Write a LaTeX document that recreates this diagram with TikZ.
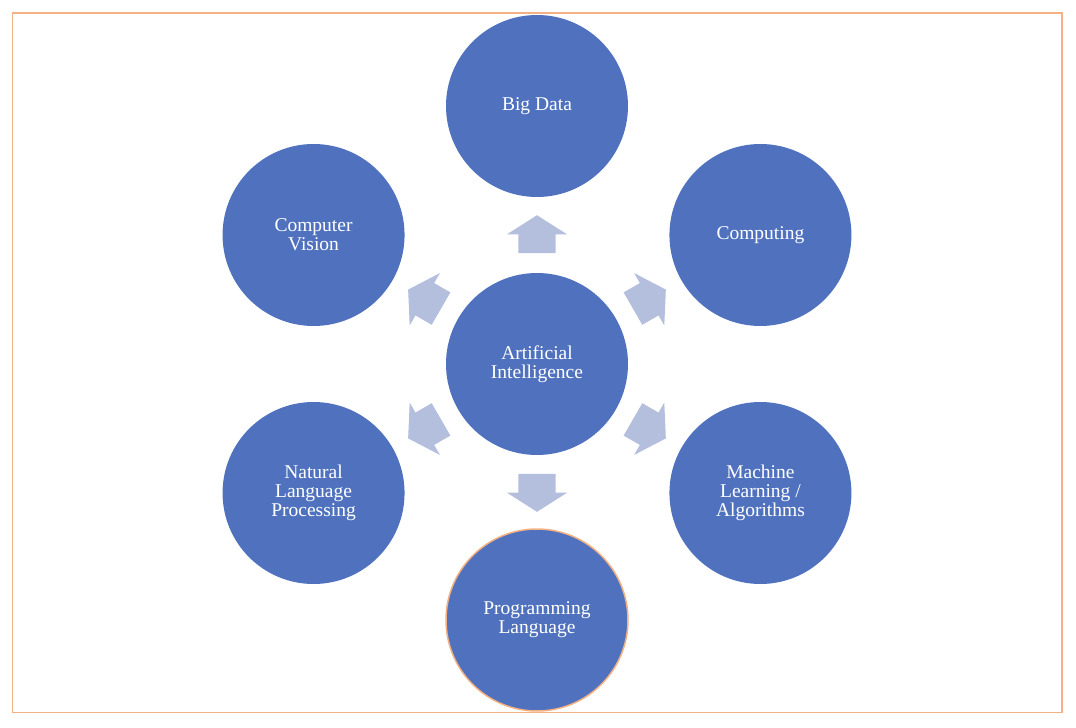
\documentclass[tikz,border=0pt]{standalone}
\usepackage{fontspec}
\setmainfont{Liberation Serif}
\usepackage{tikz}
\usepackage{xcolor}
\usetikzlibrary{shapes.arrows,calc}
\definecolor{aiblue}{HTML}{5072BE}
\definecolor{arrowblue}{HTML}{B4BFDE}
\definecolor{frameorange}{HTML}{F4B183}
\tikzstyle{topic} = [circle, fill=aiblue, minimum size=182pt, inner sep=0pt, text=white, align=center, font=\fontsize{19.5}{19}\selectfont]
\tikzstyle{spoke} = [single arrow, fill=arrowblue, minimum height=38pt, inner xsep=0pt, inner ysep=18.5pt, single arrow head extend=11.5pt, single arrow tip angle=115]

\begin{document}
\begin{tikzpicture}[x=1pt,y=1pt]
  \useasboundingbox (-537,-364) rectangle (539,364);
  \draw[frameorange, line width=1.2pt] (-524.5,-348.5) rectangle (525,351);

  \node[topic] (AI) at (0,0) {Artificial\\Intelligence};
  \node[topic] (BD) at (90:258) {Big Data};
  \node[topic] (Comp) at (30:258) {Computing};
  \node[topic] (ML) at (-30:258) {Machine\\Learning /\\Algorithms};
  \node[topic, draw=frameorange, line width=1.5pt] (PL) at (-90:256) {Programming\\Language};
  \node[topic] (NLP) at (-150:258) {Natural\\Language\\Processing};
  \node[topic] (CV) at (150:258) {Computer\\Vision};

  \node[spoke, rotate=90] (to_BD) at ($(AI)!0.48!(BD)$) {};
  \node[spoke, rotate=30] (to_Comp) at ($(AI)!0.48!(Comp)$) {};
  \node[spoke, rotate=-30] (to_ML) at ($(AI)!0.48!(ML)$) {};
  \node[spoke, rotate=-90] (to_PL) at ($(AI)!0.48!(PL)$) {};
  \node[spoke, rotate=-150] (to_NLP) at ($(AI)!0.48!(NLP)$) {};
  \node[spoke, rotate=150] (to_CV) at ($(AI)!0.48!(CV)$) {};
\end{tikzpicture}
\end{document}
